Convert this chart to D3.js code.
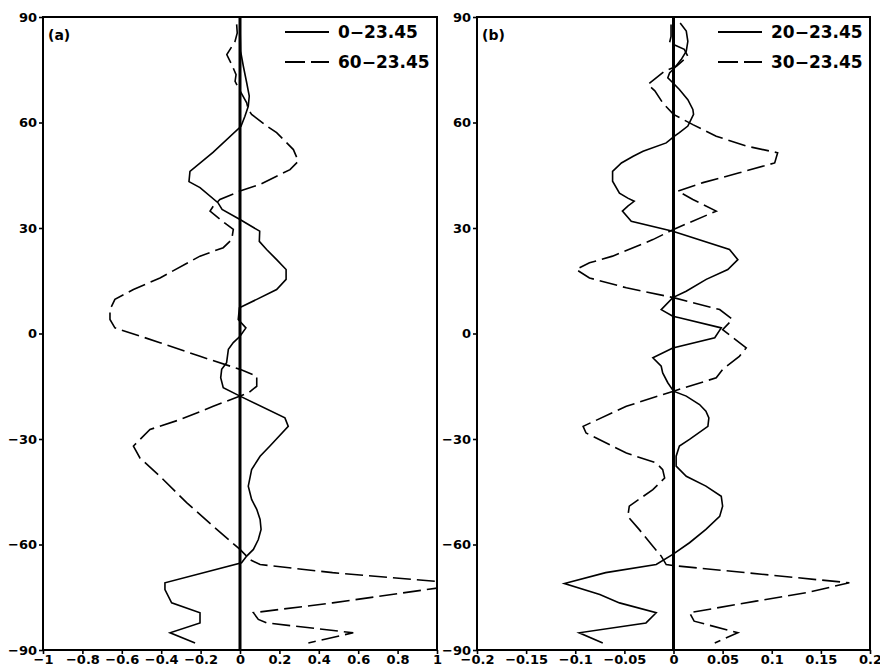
<!DOCTYPE html>
<html>
<head>
<meta charset="utf-8">
<script src="https://d3js.org/d3.v7.min.js"></script>
<style>
  body { margin: 0; background: #fff; }
  text { font-family: "DejaVu Sans", sans-serif; font-weight: bold; fill: #000; }
</style>
</head>
<body>
<div id="chart"></div>
<script>
// Latitude ticks shared by both panels
var latTicks = [90, 60, 30, 0, -30, -60, -90];

// Panel (a) x ticks and labels
var xTicksA = [-1, -0.8, -0.6, -0.4, -0.2, 0, 0.2, 0.4, 0.6, 0.8, 1];
var xLabelsA = ["\u22121", "\u22120.8", "\u22120.6", "\u22120.4", "\u22120.2", "0", "0.2", "0.4", "0.6", "0.8", "1"];

// Panel (b) x ticks and labels
var xTicksB = [-0.2, -0.15, -0.1, -0.05, 0, 0.05, 0.1, 0.15, 0.2];
var xLabelsB = ["\u22120.2", "\u22120.15", "\u22120.1", "\u22120.05", "0", "0.05", "0.1", "0.15", "0.2"];

// Series names
var namesA = ["0\u221223.45", "60\u221223.45"];
var namesB = ["20\u221223.45", "30\u221223.45"];

// Panel (a) solid: 0-23.45
var latA1 = [87.5, 83.0, 80.3, 76.0, 71.3, 67.5, 64.6, 61.8, 58.9, 51.5, 46.1, 43.2, 41.5, 37.2, 35.3, 32.4,
  29.1, 26.2, 23.9, 21.0, 18.2, 15.4, 12.5, 9.7, 7.3, 4.0, 1.6, -0.8, -2.6, -4.5, -8.3, -10.2, -12.6, -15.4,
  -17.8, -24.0, -26.4, -32.0, -34.9, -38.7, -43.4, -47.2, -50.0, -52.9, -55.7, -58.6, -61.4, -63.3, -65.2,
  -70.9, -72.8, -76.6, -79.4, -82.3, -85.1, -88.0];
var valA1 = [0, 0.002, 0.003, 0.017, 0.034, 0.047, 0.042, 0.025, 0.005, -0.137, -0.254, -0.259, -0.203, -0.112, -0.091, 0,
  0.10, 0.098, 0.135, 0.186, 0.234, 0.234, 0.186, 0.085, -0.003, -0.009, 0.03, 0, -0.034, -0.059, -0.068, -0.093, -0.098, -0.085,
  0, 0.228, 0.245, 0.152, 0.102, 0.059, 0.042, 0.059, 0.085, 0.102, 0.107, 0.093, 0.068, 0.034, 0.008,
  -0.381, -0.381, -0.347, -0.203, -0.203, -0.355, -0.228];

// Panel (a) dashed: 60-23.45
var latA2 = [87.9, 85.5, 83.1, 79.3, 78.4, 76.5, 73.6, 71.7, 69.4, 65.6, 63.7, 62.3, 59.0, 57.1, 52.3, 49.0, 46.6,
  42.4, 40.5, 38.1, 36.2, 34.8, 31.0, 29.6, 26.7, 24.4, 22.0, 15.8, 12.5, 9.7, 6.8, 4.0, 1.6, -2.6, -6.5,
  -10.2, -12.1, -15.0, -16.9, -20.7, -24.5, -27.3, -32.0, -35.4, -40.6, -48.1, -55.7, -61.4, -64.3, -65.7,
  -68.0, -71.2, -76.6, -79.4, -81.3, -82.3, -85.1, -88.0];
var valA2 = [-0.017, -0.014, -0.025, -0.067, -0.059, -0.042, -0.02, -0.025, -0.004, 0.034, 0.042, 0.059, 0.136, 0.186, 0.271, 0.296, 0.254,
  0.102, 0, -0.102, -0.136, -0.152, -0.068, -0.034, -0.042, -0.085, -0.203, -0.406, -0.541, -0.635, -0.66, -0.66, -0.635, -0.406, -0.203,
  0, 0.085, 0.085, 0.042, -0.136, -0.305, -0.457, -0.541, -0.508, -0.406, -0.271, -0.118, 0, 0.051, 0.102,
  0.47, 1.15, 0.47, 0.068, 0.093, 0.135, 0.575, 0.347];

// Panel (b) solid: 20-23.45
var latB1 = [88.3, 86.0, 83.1, 80.3, 77.9, 75.5, 74.1, 72.7, 71.3, 69.4, 66.5, 63.7, 62.3, 59.0, 57.1, 56.1, 54.2,
  51.8, 50.4, 48.5, 46.1, 43.3, 39.9, 38.5, 37.6, 36.2, 34.8, 31.9, 29.1, 23.9, 21.0, 18.2, 15.4, 12.0, 10.2,
  6.8, 4.9, 4.5, 1.6, -1.2, -4.1, -6.9, -9.3, -11.2, -14.0, -16.4, -17.8, -20.2, -22.1, -24.0, -26.4, -30.1,
  -32.0, -34.9, -37.7, -40.6, -43.4, -46.3, -49.1, -52.0, -55.7, -59.5, -62.8, -65.7, -68.0, -71.1, -74.2,
  -76.6, -79.4, -82.3, -85.1, -88.0];
var valB1 = [0.0068, 0.013, 0.0146, 0.013, 0.0078, 0.001, -0.004, -0.0058, -0.0007, 0.006, 0.0146, 0.0197, 0.0204, 0.0146, 0.006, 0.001, -0.0074,
  -0.031, -0.041, -0.053, -0.062, -0.062, -0.055, -0.0465, -0.04, -0.0465, -0.052, -0.043, -0.0007, 0.057, 0.0655, 0.0553, 0.0333, 0.0129, -0.0007,
  -0.0125, -0.0007, 0.006, 0.0486, 0.042, -0.0007, -0.021, -0.0125, -0.011, -0.0058, 0, 0.013, 0.0265, 0.033, 0.036, 0.035, 0.0163,
  0.006, 0.0027, 0.0027, 0.013, 0.033, 0.0486, 0.05, 0.047, 0.033, 0.0163, -0.0007, -0.0176, -0.069, -0.111, -0.075,
  -0.055, -0.0176, -0.028, -0.096, -0.072];

// Panel (b) dashed: 30-23.45
var latB2 = [87.9, 84.5, 82.7, 80.8, 78.8, 76.0, 74.6, 70.8, 69.0, 65.6, 62.3, 59.4, 56.1, 53.3, 51.4, 48.5, 45.7,
  42.9, 40.5, 38.1, 34.8, 29.6, 26.7, 22.0, 20.1, 18.2, 15.8, 13.0, 10.2, 6.8, 4.0, 1.1, -4.1, -6.5, -10.2,
  -12.6, -16.4, -20.7, -26.4, -28.3, -34.0, -36.8, -38.7, -41.1, -44.4, -49.1, -52.0, -55.7, -60.5, -63.3,
  -65.7, -66.0, -70.9, -73.7, -76.1, -79.4, -81.8, -85.1, -88.0];
var valB2 = [-0.0025, -0.0025, -0.004, 0.011, 0.0146, 0.003, -0.009, -0.026, -0.019, -0.011, 0, 0.0197, 0.0435, 0.074, 0.106, 0.103, 0.067,
  0.03, 0.0044, 0.0197, 0.0435, 0, -0.021, -0.062, -0.0855, -0.099, -0.0855, -0.048, 0, 0.047, 0.06, 0.05, 0.074, 0.067, 0.05,
  0.0435, 0, -0.048, -0.092, -0.089, -0.048, -0.0176, -0.011, -0.009, -0.021, -0.045, -0.0465, -0.035, -0.021, -0.0125,
  -0.0074, 0, 0.179, 0.135, 0.084, 0.0163, 0.021, 0.0655, 0.042];

var svgWidth = 880;
var svgHeight = 669;

var svg = d3.select("#chart")
  .append("svg")
  .attr("width", svgWidth)
  .attr("height", svgHeight);

// Panel frames (left, right), shared top/bottom
var plotTop = 17;
var plotBottom = 650;

var yScale = d3.scaleLinear()
  .domain([-90, 90])
  .range([plotBottom, plotTop]);

function drawPanel(id, left, right, xmax, ticks, labels, lats1, vals1, lats2, vals2, names, tag) {
  var g = svg.append("g");

  var xScale = d3.scaleLinear()
    .domain([-xmax, xmax])
    .range([left, right]);

  // clip so the big excursion gets cut at the frame
  g.append("clipPath")
    .attr("id", "clip" + id)
    .append("rect")
    .attr("x", left)
    .attr("y", plotTop)
    .attr("width", right - left)
    .attr("height", plotBottom - plotTop);

  // axes
  var bottomAxis = d3.axisBottom(xScale)
    .tickValues(ticks)
    .tickSize(4)
    .tickPadding(1)
    .tickFormat((d, i) => labels[i]);
  var leftAxis = d3.axisLeft(yScale)
    .tickValues(latTicks)
    .tickSize(4)
    .tickPadding(2)
    .tickFormat(d => d < 0 ? "\u2212" + (-d) : d);

  var xg = g.append("g").attr("transform", `translate(0, ${plotBottom})`).call(bottomAxis);
  var yg = g.append("g").attr("transform", `translate(${left}, 0)`).call(leftAxis);
  [xg, yg].forEach(function (a) {
    a.select(".domain").remove();
    a.selectAll("line").attr("stroke", "#000").attr("stroke-width", 1.6);
    a.selectAll("text")
      .style("font-size", "13px")
      .style("font-family", "DejaVu Sans, sans-serif")
      .style("font-weight", "bold");
  });

  // zero line
  g.append("line")
    .attr("x1", xScale(0))
    .attr("x2", xScale(0))
    .attr("y1", plotTop)
    .attr("y2", plotBottom)
    .attr("stroke", "#000")
    .attr("stroke-width", 3);

  var line = d3.line()
    .x(d => xScale(d[1]))
    .y(d => yScale(d[0]));

  var solid = lats1.map((d, i) => [d, vals1[i]]);
  var dashed = lats2.map((d, i) => [d, vals2[i]]);

  g.append("path")
    .datum(solid)
    .attr("clip-path", `url(#clip${id})`)
    .attr("d", line)
    .attr("fill", "none")
    .attr("stroke", "#000")
    .attr("stroke-width", 1.6);

  g.append("path")
    .datum(dashed)
    .attr("clip-path", `url(#clip${id})`)
    .attr("d", line)
    .attr("fill", "none")
    .attr("stroke", "#000")
    .attr("stroke-width", 1.6)
    .attr("stroke-dasharray", "18,6");

  // frame
  g.append("rect")
    .attr("x", left)
    .attr("y", plotTop)
    .attr("width", right - left)
    .attr("height", plotBottom - plotTop)
    .attr("fill", "none")
    .attr("stroke", "#000")
    .attr("stroke-width", 2);

  // panel tag
  g.append("text")
    .attr("x", left + 5)
    .attr("y", 40)
    .style("font-size", "14px")
    .text(tag);

  // legend
  var lx = right - 152;
  var rows = [32, 62];
  rows.forEach(function (ry, i) {
    g.append("line")
      .attr("x1", lx)
      .attr("x2", lx + 44)
      .attr("y1", ry)
      .attr("y2", ry)
      .attr("stroke", "#000")
      .attr("stroke-width", 1.8)
      .attr("stroke-dasharray", i == 0 ? null : "20,6");
    g.append("text")
      .attr("x", lx + 53)
      .attr("y", ry + 6)
      .style("font-size", "17px")
      .text(names[i]);
  });
}

drawPanel("a", 43, 437, 1, xTicksA, xLabelsA, latA1, valA1, latA2, valA2, namesA, "(a)");
drawPanel("b", 477, 870, 0.2, xTicksB, xLabelsB, latB1, valB1, latB2, valB2, namesB, "(b)");
</script>
</body>
</html>
